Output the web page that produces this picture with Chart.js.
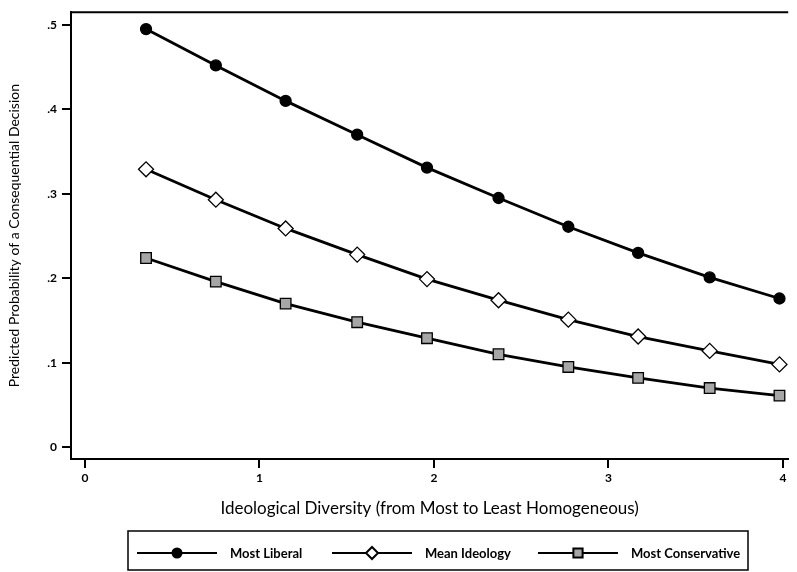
<!DOCTYPE html>
<html>
<head>
<meta charset="utf-8">
<script src="https://cdn.jsdelivr.net/npm/chart.js@4"></script>
<style>
  html, body { margin: 0; padding: 0; background: #fff; }
  #wrap { width: 797px; height: 572px; position: relative; }
</style>
</head>
<body>
<div id="wrap"><canvas id="probChart"></canvas></div>
<script>
const diversity = [0.35, 0.75, 1.15, 1.56, 1.96, 2.37, 2.77, 3.17, 3.58, 3.98];
const mostLiberal = [0.495, 0.452, 0.410, 0.370, 0.331, 0.295, 0.261, 0.230, 0.201, 0.176];
const meanIdeology = [0.329, 0.293, 0.259, 0.228, 0.199, 0.174, 0.151, 0.131, 0.114, 0.098];
const mostConservative = [0.224, 0.196, 0.170, 0.148, 0.129, 0.110, 0.095, 0.082, 0.070, 0.061];
const xTicks = [0, 1, 2, 3, 4];
const yTicks = [0, 0.1, 0.2, 0.3, 0.4, 0.5];
const seriesNames = ['Most Liberal', 'Mean Ideology', 'Most Conservative'];

const FONT = 'Lato, "Open Sans", sans-serif';
const pts = ys => diversity.map((x, i) => ({ x: x, y: ys[i] }));

// legend drawn as a framed box under the axis title, line + marker + label
const boxLegend = {
    id: 'boxLegend',
    afterDraw(chart) {
        const ctx = chart.ctx;
        const area = chart.chartArea;
        ctx.save();
        // top frame line of the plot
        ctx.strokeStyle = '#000';
        ctx.lineWidth = 2;
        ctx.beginPath();
        ctx.moveTo(area.left - 1, area.top);
        ctx.lineTo(area.right, area.top);
        ctx.stroke();

        ctx.lineWidth = 1.5;
        ctx.strokeRect(128, 531, 620, 39);

        const starts = [137, 332, 538];
        const legendSizes = [4.5, 6, 6.5];
        const y = 553;
        chart.data.datasets.forEach((ds, i) => {
            const x0 = starts[i];
            ctx.strokeStyle = '#000';
            ctx.lineWidth = 2;
            ctx.beginPath();
            ctx.moveTo(x0, y);
            ctx.lineTo(x0 + 80, y);
            ctx.stroke();
            ctx.fillStyle = ds.pointBackgroundColor;
            ctx.strokeStyle = ds.pointBorderColor;
            Chart.helpers.drawPoint(ctx, {
                pointStyle: ds.pointStyle,
                radius: legendSizes[i],
                borderWidth: 1.2,
                rotation: 0
            }, x0 + 40, y);
            ctx.fillStyle = '#000';
            ctx.font = 'bold 13px ' + FONT;
            ctx.textBaseline = 'middle';
            ctx.textAlign = 'left';
            ctx.fillText(ds.label, x0 + 93, y + 1);
        });
        ctx.restore();
    }
};

const lineBase = { borderColor: '#000', borderWidth: 2.8, tension: 0, fill: false, pointBorderColor: '#000', pointBorderWidth: 1.3 };

new Chart(document.getElementById('probChart'), {
    type: 'line',
    data: {
        datasets: [
            Object.assign({}, lineBase, {
                label: seriesNames[0], data: pts(mostLiberal),
                pointStyle: 'circle', pointRadius: 5.5, pointBackgroundColor: '#000'
            }),
            Object.assign({}, lineBase, {
                label: seriesNames[1], data: pts(meanIdeology),
                pointStyle: 'rectRot', pointRadius: 7.5, pointBackgroundColor: '#fff'
            }),
            Object.assign({}, lineBase, {
                label: seriesNames[2], data: pts(mostConservative),
                pointStyle: 'rect', pointRadius: 7.5, pointBackgroundColor: '#a6a6a6'
            })
        ]
    },
    options: {
        responsive: true, maintainAspectRatio: false, animation: false,
        layout: { padding: { top: 7, right: 0, bottom: 52, left: 0 } },
        plugins: { legend: { display: false }, tooltip: { enabled: false } },
        elements: { point: { hoverRadius: 0 } },
        clip: false,
        scales: {
            x: {
                type: 'linear', min: -0.08, max: 4.03,
                afterBuildTicks: s => { s.ticks = xTicks.map(v => ({ value: v })); },
                afterFit: s => { s.height = 61; },
                grid: { drawOnChartArea: false, drawTicks: true, tickLength: 9, color: '#000', lineWidth: 2 },
                border: { color: '#000', width: 2 },
                ticks: { color: '#000', padding: 3, maxRotation: 0, font: { family: FONT, size: 12, weight: 'bold' } },
                title: { display: true, text: 'Ideological Diversity (from Most to Least Homogeneous)', color: '#000',
                         padding: { top: 0, bottom: 1 }, font: { family: FONT, size: 17 } }
            },
            y: {
                type: 'linear', min: -0.014, max: 0.515,
                afterBuildTicks: s => { s.ticks = yTicks.map(v => ({ value: v })); },
                afterFit: s => { s.width = 71; },
                grid: { drawOnChartArea: false, drawTicks: true, tickLength: 9, color: '#000', lineWidth: 2 },
                border: { color: '#000', width: 2 },
                ticks: {
                    color: '#000', padding: 5, font: { family: FONT, size: 12, weight: 'bold' },
                    callback: v => v === 0 ? '0' : String(+v.toFixed(2)).replace(/^0/, '')
                },
                title: { display: true, text: 'Predicted Probability of a Consequential Decision', color: '#000',
                         padding: { top: 6, bottom: 0 }, font: { family: FONT, size: 14 } }
            }
        }
    },
    plugins: [boxLegend]
});
</script>
</body>
</html>
